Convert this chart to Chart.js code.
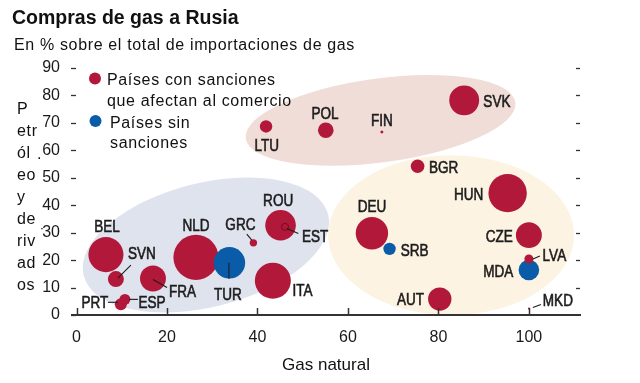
<!DOCTYPE html>
<html><head><meta charset="utf-8">
<script src="https://cdn.jsdelivr.net/npm/chart.js@4.4.1/dist/chart.umd.min.js"></script>
<style>html,body{margin:0;padding:0;background:#fff}#wrap{width:640px;height:383px;position:relative}</style>
</head><body><div id="wrap"><canvas id="c" width="640" height="383"></canvas></div>
<script>
// ---- data ----
const countries  = ['BEL','SVN','PRT','ESP','FRA','NLD','TUR','GRC','ROU','EST','ITA','LTU','POL','FIN','SVK','BGR','HUN','DEU','SRB','CZE','MDA','LVA','AUT','MKD'];
const gasShare   = [6.5, 8.7, 9.8, 10.7, 16.9, 26.4, 33.8, 39.1, 45.1, 46.1, 43.4, 41.9, 55.1, 67.5, 85.7, 75.4, 95.3, 65.3, 69.2, 100, 100, 100, 80.3, 100];
const oilShare   = [22.0, 13.1, 3.9, 5.7, 13.3, 21.0, 19.0, 26.3, 32.7, 32.1, 12.5, 68.7, 67.3, 66.7, 78.2, 54.2, 44.4, 29.8, 24.1, 29.1, 16.4, 20.4, 5.8, 2.4];
const importSize = [77, 16, 9, 7.5, 42, 127, 62, 3.4, 58.5, 3.1, 81, 9.6, 15.2, 0.56, 56, 11.6, 92, 65.6, 9.6, 42, 26.5, 5.1, 34.2, 0.25];
const sanctioned = [true,true,true,true,true,true,false,true,true,true,true,true,true,true,true,true,true,true,false,true,false,true,true,true];
const xTickValues = [0, 20, 40, 60, 80, 100];
const yTickValues = [0, 10, 20, 30, 40, 50, 60, 70, 80, 90];
const legendLines = [['Países con sanciones', 'que afectan al comercio'], ['Países sin', 'sanciones']];
const yTitleLines = ['P', 'etr', 'ól', 'eo', 'y', 'de', 'riv', 'ad', 'os'];
const chartTitle = 'Compras de gas a Rusia';
const chartSubtitle = 'En % sobre el total de importaciones de gas';
const xTitle = 'Gas natural';

// ---- styling / layout (not data) ----
const RED = '#b2183a', BLUE = '#0b5ca8', INK = '#1c1c1c';
const groupAreas = [ // centre in data units, half-axes in px
  {gx: 67.2, gy: 70.9, rx: 136, ry: 42, rot: -7.6, color: '#f0ddd7'},
  {gx: 28.6, gy: 25.5, rx: 126, ry: 62, rot: -14, color: '#dfe3ee'},
  {gx: 82.8, gy: 29.1, rx: 123, ry: 80, rot: 0, color: '#fcf3e3'}
];
const labelLayout = {
  BEL:{dx:1,dy:-28}, SVN:{dx:26,dy:-26,lead:[2,-1,15,-14]}, PRT:{dx:-26,dy:-2,lead:[-13,-2,-3,-2]},
  ESP:{dx:27,dy:3,lead:[4,0,13,0]}, FRA:{dx:29.5,dy:13,lead:[0,1,14,9]}, NLD:{dx:0,dy:-32},
  TUR:{dx:-1.6,dy:31.6,lead:[-0.5,0,-0.5,16]}, GRC:{dx:-13,dy:-18,lead:[-6.6,-8.7,-1.6,-2.7]},
  ROU:{dx:-2.4,dy:-25}, EST:{dx:30,dy:9.3,lead:[1.7,1.6,13.3,6.6]}, ITA:{dx:29.6,dy:10},
  LTU:{dx:0.7,dy:19}, POL:{dx:-0.7,dy:-16.7}, FIN:{dx:0,dy:-11.7}, SVK:{dx:32.7,dy:0.7},
  BGR:{dx:26,dy:1.3}, HUN:{dx:-39,dy:1.3}, DEU:{dx:0,dy:-26.3}, SRB:{dx:25,dy:1.3},
  CZE:{dx:-29.7,dy:1.7}, MDA:{dx:-30.7,dy:1}, LVA:{dx:25.5,dy:-4,lead:[4,0,11,-3]},
  AUT:{dx:-29.3,dy:0.3}, MKD:{dx:29,dy:-7.6,lead:[4,-1,12,-4]}
};

const points = countries.map((c, i) => ({x: gasShare[i], y: oilShare[i], r: Math.sqrt(importSize[i]) * 2, label: c, sanc: sanctioned[i]}));

function narrowFont(ctx) {
  ctx.font = '16px "Liberation Sans Narrow", monospace';
  const a = ctx.measureText('BELMDA').width;
  ctx.font = '16px monospace';
  const b = ctx.measureText('BELMDA').width;
  return Math.abs(a - b) > 0.5;
}

const decor = {
  id: 'decor',
  beforeDraw(chart) {
    const {ctx, scales: {x, y}} = chart;
    ctx.save();
    groupAreas.forEach(g => {
      ctx.beginPath();
      ctx.ellipse(x.getPixelForValue(g.gx), y.getPixelForValue(g.gy), g.rx, g.ry, g.rot * Math.PI / 180, 0, Math.PI * 2);
      ctx.fillStyle = g.color;
      ctx.fill();
    });
    ctx.restore();
  },
  afterDatasetsDraw(chart) {
    const {ctx} = chart;
    const meta = chart.getDatasetMeta(0);
    const hasNarrow = narrowFont(ctx);
    ctx.save();
    ctx.fillStyle = INK; ctx.strokeStyle = INK; ctx.lineWidth = 1.1;
    ctx.textAlign = 'center'; ctx.textBaseline = 'middle';
    meta.data.forEach((el, i) => {
      const p = points[i];
      const L = labelLayout[p.label] || {dx: 0, dy: -15};
      if (L.lead) {
        ctx.lineWidth = 1.1;
        ctx.beginPath();
        ctx.moveTo(el.x + L.lead[0], el.y + L.lead[1]);
        ctx.lineTo(el.x + L.lead[2], el.y + L.lead[3]);
        ctx.stroke();
      }
      const tx = el.x + L.dx, ty = el.y + L.dy + 1;
      ctx.save();
      ctx.translate(tx, ty);
      if (hasNarrow) {
        ctx.font = '16.5px "Liberation Sans Narrow"';
      } else {
        ctx.scale(0.82, 1);
        ctx.font = '16.5px "Liberation Sans"';
      }
      ctx.lineWidth = 0.6;
      ctx.fillText(p.label, 0, 0);
      ctx.strokeText(p.label, 0, 0);
      ctx.restore();
    });
    ctx.restore();
  },
  afterDraw(chart) {
    const {ctx, chartArea: ca, scales: {x, y}} = chart;
    ctx.save();
    // axis tick marks
    ctx.strokeStyle = '#333'; ctx.lineWidth = 1.5;
    xTickValues.forEach(v => {
      const px = Math.round(x.getPixelForValue(v)) + 0.5;
      ctx.beginPath(); ctx.moveTo(px, ca.bottom); ctx.lineTo(px, ca.bottom - 7); ctx.stroke();
    });
    ctx.lineWidth = 1.3;
    yTickValues.forEach(v => {
      const py = Math.round(y.getPixelForValue(v)) + 0.5;
      ctx.beginPath(); ctx.moveTo(ca.left - 1, py); ctx.lineTo(ca.left + 4, py); ctx.stroke();
      if (v > 0) { ctx.beginPath(); ctx.moveTo(ca.right - 4, py); ctx.lineTo(ca.right, py); ctx.stroke(); }
    });
    // title + subtitle
    ctx.fillStyle = '#111';
    ctx.textAlign = 'left'; ctx.textBaseline = 'alphabetic';
    ctx.font = 'bold 19.5px "Liberation Sans"';
    ctx.fillText(chartTitle, 12, 24);
    try { ctx.letterSpacing = '0.65px'; } catch (e) {}
    ctx.font = '16px "Liberation Sans"';
    ctx.fillText(chartSubtitle, 14, 50);
    // legend
    const dots = [[95, 78.5, RED], [95.5, 121, BLUE]];
    const textPos = [[[107, 85], [107, 106]], [[110, 127.5], [110, 148]]];
    legendLines.forEach((lines, k) => {
      ctx.beginPath(); ctx.arc(dots[k][0], dots[k][1], 6, 0, Math.PI * 2); ctx.fillStyle = dots[k][2]; ctx.fill();
      ctx.fillStyle = '#111';
      lines.forEach((t, j) => ctx.fillText(t, textPos[k][j][0], textPos[k][j][1]));
    });
    // y-axis title (narrow wrapped column)
    yTitleLines.forEach((t, j) => ctx.fillText(t, 17, 114 + j * 22));
    ctx.fillText('.', 37, 159);
    ctx.fillText('˙', 40, 240);
    ctx.restore();
  }
};

new Chart(document.getElementById('c'), {
  type: 'bubble',
  data: {
    datasets: [{
      label: 'Países',
      data: points,
      backgroundColor: points.map(p => p.sanc ? RED : BLUE),
      borderColor: points.map(p => p.label === 'EST' ? '#6e0d22' : 'rgba(0,0,0,0)'),
      borderWidth: points.map(p => p.label === 'EST' ? 1 : 0),
      hoverRadius: 0
    }]
  },
  options: {
    responsive: false, animation: false, devicePixelRatio: 1,
    layout: {padding: {left: 0, right: 60, top: 57, bottom: 0}},
    plugins: {legend: {display: false}, tooltip: {enabled: false}, title: {display: false}},
    scales: {
      x: {
        type: 'linear', min: -1, max: 111.3,
        afterBuildTicks: s => { s.ticks = xTickValues.map(v => ({value: v})); },
        afterFit: s => { s.height = 68; },
        grid: {display: false},
        border: {display: true, color: '#333', width: 2},
        ticks: {color: '#1a1a1a', padding: 5, maxRotation: 0, font: {family: 'Liberation Sans', size: 16}},
        title: {display: true, text: xTitle, color: '#111', font: {family: 'Liberation Sans', size: 17}, padding: {top: 0, bottom: 7}}
      },
      y: {
        type: 'linear', min: 0, max: 94,
        afterBuildTicks: s => { s.ticks = yTickValues.map(v => ({value: v})); },
        afterFit: s => { s.width = 72; },
        grid: {display: false},
        border: {display: false},
        ticks: {color: '#1a1a1a', padding: 4, font: {family: 'Liberation Sans', size: 16}}
      }
    }
  },
  plugins: [decor]
});
</script>
</body></html>
